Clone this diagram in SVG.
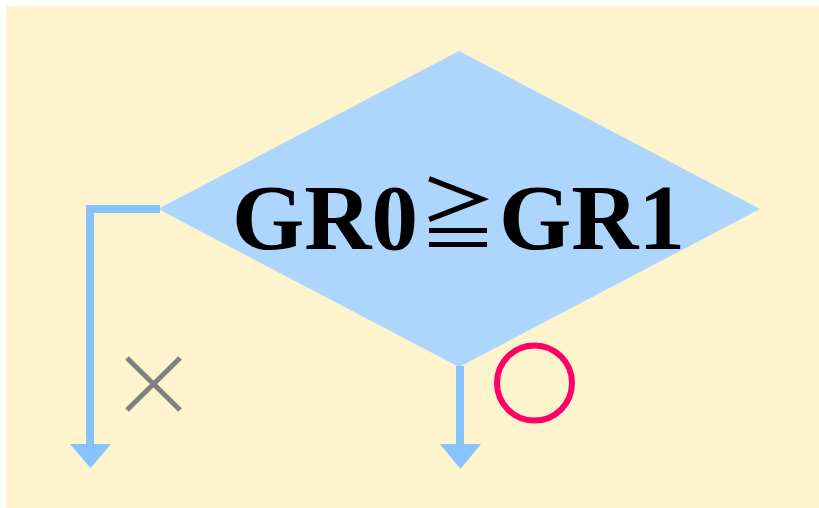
<svg xmlns="http://www.w3.org/2000/svg" width="819" height="508" viewBox="0 0 819 508">
<defs>
<style>
.conn{fill:none;stroke:#88c3fe;stroke-width:8}
.head{fill:#88c3fe}
.lbl{font-family:"Liberation Serif","Noto Sans CJK JP",serif;font-weight:bold;font-size:93px;fill:#000}
.sym{font-family:"Noto Sans CJK JP",sans-serif;font-size:78px;fill:#000}
</style>
</defs>
<rect x="6" y="6" width="813" height="502" fill="#fdf4cd"/>
<g id="decision">
<polygon points="158,209 459,51 760,209 459,367" fill="#acd6fe"/>
<text class="lbl" x="232" y="249">GR0</text>
<text class="sym" x="419" y="243">≧</text>
<text class="lbl" x="499" y="249">GR1</text>
</g>
<g id="connectors">
<polyline class="conn" points="160,209 90,209 90,446"/>
<polygon class="head" points="70,444 111,444 90.5,468"/>
<line class="conn" x1="460" y1="366" x2="460" y2="446"/>
<polygon class="head" points="440,444 481,444 460.5,469"/>
</g>
<g id="no-label">
<path d="M127,358 L180,410 M180,358 L127,410" stroke="#808080" stroke-width="5" fill="none"/>
</g>
<g id="yes-label">
<circle cx="534.5" cy="383" r="37.5" fill="none" stroke="#fe0066" stroke-width="6"/>
</g>
</svg>
